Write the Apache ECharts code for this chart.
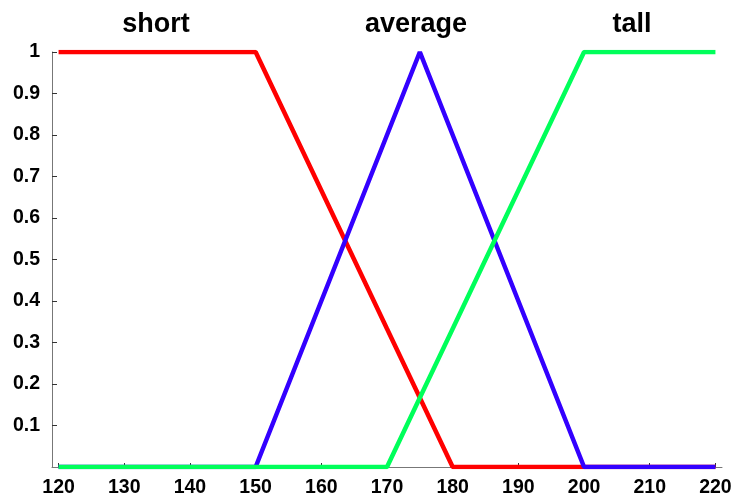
<!DOCTYPE html>
<html>
<head>
<meta charset="utf-8">
<script src="https://cdn.jsdelivr.net/npm/echarts@6/dist/echarts.min.js"></script>
<style>
  html, body { margin: 0; padding: 0; background: #fff; }
  #main { width: 735px; height: 500px; }
</style>
</head>
<body>
<div id="main"></div>
<script>
// height (cm) breakpoints
var heights = [120, 150, 170, 175, 180, 200, 220];
// membership values at each breakpoint
var shortVals = [1, 1, 0.333, 0.167, 0, 0, 0];
var avgVals = [0, 0, 0.8, 1, 0.8, 0, 0];
var tallVals = [0, 0, 0, 0.167, 0.333, 1, 1];

var xTicks = [120, 130, 140, 150, 160, 170, 180, 190, 200, 210, 220];
var yTicks = [0.1, 0.2, 0.3, 0.4, 0.5, 0.6, 0.7, 0.8, 0.9, 1];

function pairs(vals) {
  var out = [];
  for (var i = 0; i < heights.length; i++) {
    out.push([heights[i], vals[i]]);
  }
  return out;
}

var myChart = echarts.init(document.getElementById('main'));

var labelFont = {
  fontFamily: 'Liberation Sans, Arial, sans-serif',
  fontWeight: 'bold',
  fontSize: 19.5,
  color: '#000'
};
var titleFont = { fontFamily: 'Liberation Sans, Arial', fontWeight: 'bold', fontSize: 27, color: '#000' };

var option = {
  animation: false,
  backgroundColor: '#fff',
  title: [
    { text: 'short', left: 151, top: 6, textAlign: 'center', textStyle: titleFont },
    { text: 'average', left: 411, top: 6, textAlign: 'center', textStyle: titleFont },
    { text: 'tall', left: 627, top: 6, textAlign: 'center', textStyle: titleFont }
  ],
  grid: {
    left: 52,
    right: 13,
    top: 52,
    bottom: 33
  },
  xAxis: {
    type: 'value',
    min: 119,
    max: 221,
    splitLine: { show: false },
    axisLine: { lineStyle: { color: '#777', width: 1 } },
    axisTick: {
      inside: true,
      length: 4,
      customValues: xTicks,
      lineStyle: { color: '#333' }
    },
    axisLabel: Object.assign({ customValues: xTicks, margin: 11 }, labelFont)
  },
  yAxis: {
    type: 'value',
    min: 0,
    max: 1,
    splitLine: { show: false },
    axisLine: { show: true, lineStyle: { color: '#777', width: 1 } },
    axisTick: {
      show: true,
      inside: true,
      length: 5,
      customValues: yTicks,
      lineStyle: { color: '#333' }
    },
    axisLabel: Object.assign({ customValues: yTicks, margin: 12 }, labelFont)
  },
  series: [
    {
      name: 'short',
      type: 'line',
      data: pairs(shortVals),
      symbol: 'none',
      lineStyle: { color: '#ff0000', width: 4.5 },
      z: 2
    },
    {
      name: 'average',
      type: 'line',
      data: pairs(avgVals),
      symbol: 'none',
      lineStyle: { color: '#3300ff', width: 4.5 },
      z: 3
    },
    {
      name: 'tall',
      type: 'line',
      data: pairs(tallVals),
      symbol: 'none',
      lineStyle: { color: '#00ff5a', width: 4.5 },
      z: 4
    }
  ]
};

myChart.setOption(option);
window.addEventListener('resize', function() {
  myChart.resize();
});
</script>
</body>
</html>
